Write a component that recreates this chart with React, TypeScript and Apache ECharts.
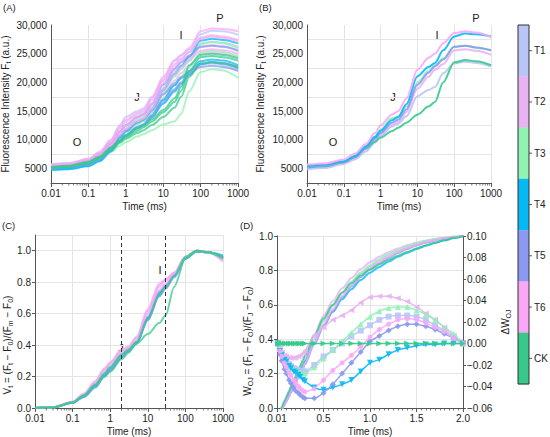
import React, { useEffect, useRef } from 'react';
import * as echarts from 'echarts';

// ---------- data ----------
const TREATMENTS = ['T1', 'T2', 'T3', 'T4', 'T5', 'T6', 'CK'];
const COLORS: Record<string, string> = {
  T1: '#b9c5f7', T2: '#e9b2f2', T3: '#8ff3b2', T4: '#05b9f5', T5: '#8a9af2', T6: '#fba7f7', CK: '#35c98b',
};

// time points (ms) for OJIP transients
const TIME_MS = [0.01, 0.03, 0.1, 0.2, 0.4, 0.7, 1, 2, 3, 5, 10, 20, 30, 50, 100, 200, 400, 1000];

// (A) raw transients, replicates
const FT_T1_A = [5800, 6000, 6700, 7900, 10000, 12600, 14000, 15000, 15500, 17500, 20500, 23800, 24800, 25800, 28400, 29000, 28900, 28300];
const FT_T1_B = [5400, 5600, 6300, 7300, 9200, 11300, 12400, 13800, 14300, 16000, 19000, 22000, 23000, 24300, 26800, 27100, 26900, 26200];
const FT_T1_C = [5000, 5200, 5800, 6700, 8300, 9900, 10800, 12100, 12600, 13800, 16500, 18300, 19500, 21500, 23000, 23300, 23000, 22200];
const FT_T2_A = [5600, 5800, 6500, 7700, 9700, 12000, 13200, 14400, 14900, 16900, 20300, 23200, 24200, 25300, 27800, 28200, 28000, 27400];
const FT_T2_B = [5300, 5500, 6200, 7200, 9000, 10900, 12000, 13300, 13800, 15500, 18600, 21300, 22600, 23800, 26200, 26500, 26300, 25600];
const FT_T2_C = [5100, 5300, 5900, 6900, 8600, 10300, 11400, 12800, 13300, 14800, 17800, 20300, 21600, 23000, 25000, 25200, 25000, 24400];
const FT_T3_A = [5300, 5500, 6200, 7100, 8900, 10800, 11900, 13500, 14000, 15700, 18400, 21000, 22300, 23700, 26600, 27000, 26800, 26000];
const FT_T3_B = [5200, 5400, 6000, 6900, 8600, 10300, 11300, 12700, 13200, 14700, 17200, 19500, 21000, 22700, 25200, 25500, 25300, 24600];
const FT_T3_C = [5000, 5200, 5700, 6500, 7900, 9000, 9600, 10600, 11000, 11700, 12700, 13200, 14500, 18500, 21800, 22300, 22100, 20800];
const FT_T4_A = [5100, 5200, 5800, 6800, 8600, 10400, 11500, 13000, 13500, 15300, 18700, 21500, 22800, 24500, 27300, 27600, 27400, 26800];
const FT_T4_B = [4800, 5000, 5500, 6400, 8100, 9800, 10800, 12200, 12700, 14300, 17000, 19500, 20700, 22000, 23700, 24000, 23800, 23000];
const FT_T4_C = [4800, 4900, 5400, 6300, 8000, 9700, 10700, 12000, 12500, 14000, 16300, 18500, 19800, 21300, 23200, 23500, 23300, 22500];
const FT_T5_A = [5500, 5700, 6400, 7500, 9400, 11500, 12600, 14000, 14500, 16300, 19600, 22400, 23500, 24700, 26200, 26400, 26200, 25500];
const FT_T5_B = [5200, 5400, 6000, 7000, 8800, 10700, 11700, 13100, 13600, 15100, 18000, 19800, 20900, 21800, 23300, 23600, 23400, 22700];
const FT_T5_C = [5000, 5200, 5700, 6600, 8200, 9800, 10800, 12200, 12700, 14100, 16800, 18800, 20000, 21600, 22700, 22900, 22700, 22000];
const FT_T6_A = [5700, 5900, 6700, 7900, 10000, 12300, 13500, 14700, 15200, 17300, 21000, 23800, 24700, 26000, 28900, 29400, 29300, 28900];
const FT_T6_B = [5500, 5700, 6400, 7500, 9400, 11500, 12600, 13900, 14400, 16300, 19800, 22800, 23900, 25300, 27600, 28000, 27800, 27200];
const FT_T6_C = [5300, 5500, 6200, 7200, 9000, 10900, 11900, 13200, 13700, 15400, 18700, 21500, 22700, 24000, 25500, 25800, 25600, 25000];
const FT_CK_A = [5300, 5500, 6200, 7100, 8700, 10000, 10800, 12000, 12600, 13600, 15200, 17200, 19200, 23000, 24800, 25000, 24800, 24200];
const FT_CK_B = [5200, 5400, 6100, 7000, 8500, 9800, 10500, 11600, 12200, 13200, 14800, 16600, 18500, 22000, 24400, 24600, 24400, 23800];
const FT_CK_C = [5100, 5300, 5900, 6800, 8300, 9500, 10200, 11200, 11700, 12600, 14000, 15600, 17500, 21000, 23300, 23500, 23300, 22600];

// (B) mean transients
const FT_MEAN_T1 = [4900, 5100, 5800, 6600, 8000, 9500, 10700, 12300, 12800, 14100, 17600, 18700, 19200, 21600, 23300, 23600, 23400, 22800];
const FT_MEAN_T2 = [5200, 5400, 6000, 6900, 8400, 9900, 10900, 12600, 13100, 14800, 18900, 21000, 22200, 23200, 25600, 25800, 25500, 24800];
const FT_MEAN_T3 = [5400, 5600, 6200, 7100, 8800, 10600, 11800, 13800, 14000, 15800, 20000, 22000, 23000, 24200, 26200, 26400, 26000, 25600];
const FT_MEAN_T4 = [5500, 5700, 6300, 7200, 8900, 10500, 11600, 13400, 14000, 16200, 21100, 22700, 23400, 25600, 28000, 28500, 28400, 28000];
const FT_MEAN_T5 = [5300, 5500, 6100, 7000, 8600, 10200, 11200, 13000, 13500, 15300, 19600, 21700, 22800, 24000, 26200, 26400, 26100, 25600];
const FT_MEAN_T6 = [5700, 5900, 6600, 7600, 9300, 11200, 12500, 14400, 15000, 17200, 22200, 24300, 25000, 26800, 28600, 28900, 28700, 27900];
const FT_MEAN_CK = [5200, 5400, 6100, 7000, 8500, 9700, 10400, 11500, 12100, 13000, 14400, 15800, 16600, 20000, 23500, 23900, 23700, 23000];

// (C) relative variable fluorescence Vt
const VT_T1_A = [0, 0.004, 0.036, 0.08, 0.15, 0.22, 0.26, 0.34, 0.37, 0.42, 0.57, 0.72, 0.77, 0.84, 0.96, 0.995, 0.99, 0.95];
const VT_T1_B = [0, 0.004, 0.034, 0.075, 0.14, 0.21, 0.25, 0.33, 0.37, 0.42, 0.56, 0.71, 0.76, 0.84, 0.95, 0.995, 0.99, 0.96];
const VT_T2_A = [0, 0.005, 0.04, 0.09, 0.17, 0.25, 0.29, 0.37, 0.39, 0.45, 0.63, 0.79, 0.82, 0.86, 0.96, 1.0, 0.99, 0.94];
const VT_T2_B = [0, 0.005, 0.038, 0.085, 0.16, 0.24, 0.28, 0.36, 0.38, 0.44, 0.61, 0.77, 0.81, 0.85, 0.96, 1.0, 0.99, 0.93];
const VT_T3_A = [0, 0.004, 0.037, 0.085, 0.16, 0.24, 0.28, 0.36, 0.38, 0.43, 0.58, 0.73, 0.78, 0.85, 0.96, 1.0, 0.985, 0.95];
const VT_T3_B = [0, 0.004, 0.035, 0.08, 0.15, 0.22, 0.26, 0.34, 0.37, 0.42, 0.57, 0.72, 0.77, 0.84, 0.96, 1.0, 0.99, 0.96];
const VT_T4_A = [0, 0.004, 0.035, 0.075, 0.14, 0.21, 0.25, 0.33, 0.36, 0.41, 0.57, 0.73, 0.78, 0.84, 0.95, 0.995, 0.99, 0.96];
const VT_T4_B = [0, 0.003, 0.033, 0.07, 0.13, 0.2, 0.24, 0.32, 0.36, 0.41, 0.56, 0.72, 0.77, 0.84, 0.95, 0.995, 0.99, 0.97];
const VT_T5_A = [0, 0.004, 0.034, 0.075, 0.14, 0.21, 0.25, 0.33, 0.37, 0.42, 0.58, 0.74, 0.78, 0.85, 0.96, 1.0, 0.99, 0.95];
const VT_T5_B = [0, 0.004, 0.034, 0.072, 0.135, 0.2, 0.24, 0.32, 0.36, 0.41, 0.56, 0.71, 0.76, 0.83, 0.95, 0.995, 0.99, 0.96];
const VT_T6_A = [0, 0.005, 0.04, 0.09, 0.17, 0.25, 0.29, 0.37, 0.39, 0.45, 0.62, 0.78, 0.82, 0.86, 0.96, 1.0, 0.99, 0.94];
const VT_T6_B = [0, 0.005, 0.038, 0.085, 0.16, 0.235, 0.28, 0.35, 0.38, 0.43, 0.6, 0.75, 0.79, 0.85, 0.96, 1.0, 0.99, 0.95];
const VT_CK_A = [0, 0.004, 0.036, 0.08, 0.145, 0.2, 0.23, 0.31, 0.35, 0.41, 0.47, 0.54, 0.59, 0.77, 0.95, 1.0, 0.99, 0.96];
const VT_CK_B = [0, 0.004, 0.035, 0.08, 0.15, 0.22, 0.26, 0.34, 0.37, 0.42, 0.57, 0.72, 0.77, 0.84, 0.96, 1.0, 0.99, 0.95];
const VT_MARKS_MS = [2, 30]; // J and I steps

// (D) W_OJ and ΔW_OJ
const DW_TIME = [0.01, 0.03, 0.05, 0.08, 0.1, 0.13, 0.15, 0.18, 0.2, 0.23, 0.25, 0.28, 0.3, 0.4, 0.5, 0.6, 0.7, 0.8, 0.9, 1.0, 1.1, 1.2, 1.3, 1.4, 1.5, 1.6, 1.7, 1.8, 1.9, 2.0];
const W_CK = [-0.05, -0.02, 0.005, 0.04, 0.065, 0.1, 0.125, 0.16, 0.185, 0.22, 0.245, 0.28, 0.305, 0.42, 0.52, 0.6, 0.67, 0.725, 0.77, 0.805, 0.835, 0.862, 0.885, 0.907, 0.927, 0.945, 0.961, 0.975, 0.988, 1.0];
const DW_T1 = [0, -0.005, -0.009, -0.013, -0.016, -0.019, -0.021, -0.023, -0.024, -0.025, -0.026, -0.026, -0.026, -0.02, -0.012, -0.006, 0.0, 0.007, 0.012, 0.017, 0.022, 0.025, 0.026, 0.026, 0.025, 0.022, 0.017, 0.012, 0.006, 0];
const DW_T2 = [0, -0.006, -0.009, -0.011, -0.012, -0.013, -0.0135, -0.0135, -0.013, -0.012, -0.011, -0.009, -0.007, 0.007, 0.015, 0.022, 0.026, 0.031, 0.038, 0.043, 0.044, 0.044, 0.042, 0.039, 0.034, 0.028, 0.022, 0.015, 0.007, 0];
const DW_T3 = [0, -0.005, -0.009, -0.014, -0.017, -0.02, -0.022, -0.024, -0.025, -0.026, -0.027, -0.028, -0.028, -0.022, -0.014, -0.006, 0.002, 0.01, 0.018, 0.025, 0.03, 0.033, 0.034, 0.034, 0.031, 0.027, 0.022, 0.015, 0.009, 0];
const DW_T4 = [0, -0.007, -0.011, -0.015, -0.017, -0.021, -0.023, -0.026, -0.027, -0.029, -0.031, -0.034, -0.035, -0.041, -0.043, -0.041, -0.038, -0.034, -0.026, -0.018, -0.015, -0.01, -0.006, -0.004, -0.002, -0.001, -0.001, 0, 0, 0];
const DW_T5 = [0, -0.01, -0.016, -0.024, -0.028, -0.034, -0.037, -0.041, -0.044, -0.046, -0.048, -0.05, -0.051, -0.051, -0.046, -0.038, -0.028, -0.018, -0.008, 0.002, 0.007, 0.012, 0.016, 0.018, 0.018, 0.016, 0.013, 0.009, 0.005, 0];
const DW_T6 = [0, -0.007, -0.012, -0.018, -0.022, -0.027, -0.03, -0.034, -0.037, -0.04, -0.042, -0.044, -0.045, -0.042, -0.034, -0.025, -0.018, -0.011, -0.003, 0.006, 0.013, 0.018, 0.022, 0.023, 0.022, 0.019, 0.015, 0.011, 0.005, 0];
const DW_CK = [0, 0, 0, 0, 0, 0, 0, 0, 0, 0, 0, 0, 0, 0, 0, 0, 0, 0, 0, 0, 0, 0, 0, 0, 0, 0, 0, 0, 0, 0];

const FT_TICKS_LABELLED = [5000, 10000, 15000, 20000, 25000, 30000];

// ---------- helpers ----------
const FONT = '"Liberation Sans", Arial, sans-serif';
const AXIS_COLOR = '#555';
const GRID_COLOR = '#e4e4e4';

const FT_REPS: [string, number[]][] = [
  ['T1', FT_T1_A], ['T1', FT_T1_B], ['T1', FT_T1_C],
  ['T2', FT_T2_A], ['T2', FT_T2_B], ['T2', FT_T2_C],
  ['T3', FT_T3_A], ['T3', FT_T3_B], ['T3', FT_T3_C],
  ['T4', FT_T4_A], ['T4', FT_T4_B], ['T4', FT_T4_C],
  ['T5', FT_T5_A], ['T5', FT_T5_B], ['T5', FT_T5_C],
  ['T6', FT_T6_A], ['T6', FT_T6_B], ['T6', FT_T6_C],
  ['CK', FT_CK_A], ['CK', FT_CK_B], ['CK', FT_CK_C],
];
const FT_MEANS: [string, number[]][] = [
  ['T1', FT_MEAN_T1], ['T2', FT_MEAN_T2], ['CK', FT_MEAN_CK], ['T3', FT_MEAN_T3],
  ['T5', FT_MEAN_T5], ['T4', FT_MEAN_T4], ['T6', FT_MEAN_T6],
];
const VT_REPS: [string, number[]][] = [
  ['T1', VT_T1_A], ['T1', VT_T1_B], ['T2', VT_T2_A], ['T2', VT_T2_B],
  ['T3', VT_T3_A], ['T3', VT_T3_B], ['T4', VT_T4_A], ['T4', VT_T4_B],
  ['T5', VT_T5_A], ['T5', VT_T5_B], ['T6', VT_T6_A], ['T6', VT_T6_B],
  ['CK', VT_CK_A], ['CK', VT_CK_B],
];
const DW_SERIES: [string, number[], string, number][] = [
  ['T1', DW_T1, 'rect', 0],
  ['T2', DW_T2, 'triangle', 90],
  ['T3', DW_T3, 'triangle', 0],
  ['T4', DW_T4, 'triangle', 180],
  ['T5', DW_T5, 'diamond', 0],
  ['T6', DW_T6, 'circle', 0],
  ['CK', DW_CK, 'triangle', -90],
];

function minorLogTicks(): number[] {
  const out: number[] = [];
  for (let e = -2; e < 3; e++) {
    for (let m = 2; m <= 9; m++) out.push(+(m * Math.pow(10, e)).toPrecision(3));
  }
  return out;
}

function fmtLog(v: number) {
  if (v < 1) return String(+v.toPrecision(1));
  return String(Math.round(v));
}
function fmtFt(v: number) {
  if (FT_TICKS_LABELLED.indexOf(Math.round(v)) < 0) return '';
  return v >= 10000 ? Math.round(v).toLocaleString('en-US') : String(Math.round(v));
}

const tickLabel = { fontSize: 10, color: '#222', fontFamily: FONT };
const nameRich = {
  n: { fontSize: 10, color: '#222', fontFamily: FONT, lineHeight: 13 },
  s: { fontSize: 7, color: '#222', fontFamily: FONT, lineHeight: 8, verticalAlign: 'bottom' },
};

function logXAxis(gridIndex: number) {
  return {
    type: 'log', logBase: 10, gridIndex, min: 0.01, max: 1000,
    axisLine: { show: true, lineStyle: { color: AXIS_COLOR, width: 1 } },
    axisTick: { show: true, length: 4, lineStyle: { color: AXIS_COLOR } },
    axisLabel: { ...tickLabel, margin: 5, formatter: fmtLog },
    splitLine: { show: true, lineStyle: { color: GRID_COLOR, width: 1 } },
    minorTick: { show: false }, minorSplitLine: { show: false },
    name: '{n|Time (ms)}', nameLocation: 'middle', nameGap: 17,
    nameTextStyle: { rich: nameRich, verticalAlign: 'top' },
  };
}

function minorTickSeries(xAxisIndex: number, yAxisIndex: number, yBase: number) {
  return {
    type: 'custom', xAxisIndex, yAxisIndex, silent: true, z: 5, clip: false,
    data: minorLogTicks().map((v) => [v, yBase]),
    renderItem: (params: any, api: any) => {
      const p = api.coord([api.value(0), api.value(1)]);
      return {
        type: 'line',
        shape: { x1: p[0], y1: p[1], x2: p[0], y2: p[1] + 2.5 },
        style: { stroke: AXIS_COLOR, lineWidth: 0.8 },
      };
    },
  };
}

function line(name: string, xAxisIndex: number, yAxisIndex: number, xs: number[], ys: number[], width = 2, opacity = 0.8) {
  const c = COLORS[name];
  return {
    type: 'line', name, xAxisIndex, yAxisIndex,
    data: xs.map((x, i) => [x, ys[i]]),
    smooth: 0.3, smoothMonotone: 'x', showSymbol: false, symbol: 'none', silent: true,
    lineStyle: { color: c, width, opacity }, itemStyle: { color: c }, z: 2,
  };
}

export default function App() {
  const ref = useRef<HTMLDivElement>(null);
  useEffect(() => {
    if (!ref.current) return;
    const chart = echarts.init(ref.current, null, { renderer: 'svg' });

    const series: any[] = [];
    // A
    FT_REPS.forEach(([t, v]) => series.push(line(t, 0, 0, TIME_MS, v, 2, 0.75)));
    series.push(minorTickSeries(0, 0, 2500));
    // B
    FT_MEANS.forEach(([t, v]) => series.push(line(t, 1, 1, TIME_MS, v, 2, 0.9)));
    series.push(minorTickSeries(1, 1, 2500));
    // C
    VT_REPS.forEach(([t, v], i) => {
      const s: any = line(t, 2, 2, TIME_MS, v, 2, 0.75);
      if (i === 0) {
        s.markLine = {
          silent: true, symbol: 'none', label: { show: false },
          lineStyle: { color: '#333', type: [4, 3], width: 1, opacity: 1 },
          data: VT_MARKS_MS.map((x) => ({ xAxis: x })),
        };
      }
      series.push(s);
    });
    series.push(minorTickSeries(2, 2, 0));
    // D: W_OJ curves (derived: W_T = W_CK + ΔW_T)
    DW_SERIES.forEach(([t, dw]) => {
      const w = W_CK.map((v, i) => v + dw[i]);
      series.push(line(t, 3, 3, DW_TIME, w, 2, 0.8));
    });
    // D: ΔW_OJ
    DW_SERIES.forEach(([t, dw, sym, rot]) => {
      const c = COLORS[t];
      series.push({
        type: 'line', name: t + ' ΔW', xAxisIndex: 3, yAxisIndex: 4,
        data: DW_TIME.map((x, i) => [x, dw[i]]),
        smooth: 0.2, showSymbol: true, symbol: sym, symbolRotate: rot,
        symbolSize: sym === 'circle' ? 5 : 6, silent: true,
        lineStyle: { color: c, width: 1.5, opacity: 0.9 },
        itemStyle: { color: c, opacity: 0.9 }, z: 3,
      });
    });

    const txt = (x: number, y: number, text: string, size = 10.5, align = 'center') => ({
      type: 'text', x, y, silent: true,
      style: { text, fill: '#222', font: `${size}px ${FONT}`, textAlign: align, textVerticalAlign: 'middle' },
    });
    const vTitle = (x: number, y: number, text: string) => ({
      type: 'text', x, y, rotation: Math.PI / 2, silent: true,
      style: { text, rich: nameRich, textAlign: 'center', textVerticalAlign: 'middle', fill: '#222' },
    });

    const graphic: any[] = [
      txt(3, 7, '(A)', 9.5, 'left'), txt(259, 7, '(B)', 9.5, 'left'),
      txt(2, 225, '(C)', 9.5, 'left'), txt(240, 225, '(D)', 9.5, 'left'),
      txt(77, 142, 'O', 11), txt(137, 97, 'J', 11), txt(181, 35, 'I', 11), txt(220, 18, 'P', 11),
      txt(333, 142, 'O', 11), txt(393, 97, 'J', 11), txt(437, 35, 'I', 11), txt(476, 18, 'P', 11),
      txt(121, 348, 'J', 11), txt(160, 270, 'I', 11),
      vTitle(7.5, 345, '{n|V}{s|t}{n| = (F}{s|t}{n| − F}{s|0}{n|)/(F}{s|m}{n| − F}{s|0}{n|)}'),
      vTitle(247.5, 341, '{n|W}{s|OJ}{n| = (F}{s|t}{n| − F}{s|O}{n|)/(F}{s|J}{n| − F}{s|O}{n|)}'),
    ];
    // colour bar
    const cbTop = 25, cbH = 359, cbX = 518, cbW = 11;
    const seg = cbH / TREATMENTS.length;
    TREATMENTS.forEach((t, i) => {
      graphic.push({ type: 'rect', silent: true, shape: { x: cbX, y: cbTop + i * seg, width: cbW, height: seg + 0.3 }, style: { fill: COLORS[t] } });
      const cy = cbTop + (i + 0.5) * seg;
      graphic.push({ type: 'line', silent: true, shape: { x1: cbX + cbW, y1: cy, x2: cbX + cbW + 3, y2: cy }, style: { stroke: '#333', lineWidth: 0.8 } });
      graphic.push(txt(cbX + cbW + 5, cy, t, 10, 'left'));
    });
    graphic.push({ type: 'rect', silent: true, shape: { x: cbX, y: cbTop, width: cbW, height: cbH }, style: { fill: 'none', stroke: '#333', lineWidth: 1 } });

    const yFt = (gridIndex: number, gap: number) => ({
      type: 'value', gridIndex, min: 2500, max: 30000, interval: 2500,
      axisLine: { show: true, lineStyle: { color: AXIS_COLOR } },
      axisTick: { show: false },
      axisLabel: { ...tickLabel, margin: 4, formatter: fmtFt },
      splitLine: { show: true, lineStyle: { color: [GRID_COLOR, 'rgba(0,0,0,0)'] } },
      name: '{n|Fluorescence Intensity F}{s|t}{n| (a.u.)}', nameLocation: 'middle', nameGap: gap,
      nameTextStyle: { rich: nameRich },
    });

    const option: any = {
      animation: false,
      backgroundColor: '#fff',
      grid: [
        { left: 51, top: 25, width: 187, height: 158, outerBoundsMode: 'none' },
        { left: 307, top: 25, width: 184, height: 158, outerBoundsMode: 'none' },
        { left: 35, top: 235, width: 188, height: 173, outerBoundsMode: 'none' },
        { left: 277, top: 236, width: 186, height: 172, outerBoundsMode: 'none' },
      ],
      xAxis: [
        logXAxis(0), logXAxis(1), logXAxis(2),
        {
          type: 'value', gridIndex: 3, min: 0, max: 2, interval: 0.5,
          axisLine: { show: true, lineStyle: { color: AXIS_COLOR } },
          axisTick: { show: true, length: 4, lineStyle: { color: AXIS_COLOR } },
          minorTick: { show: true, splitNumber: 10, length: 2.5, lineStyle: { color: AXIS_COLOR, width: 0.8 } },
          axisLabel: { ...tickLabel, margin: 5, formatter: (v: number) => (v === 0 ? '0.01' : v.toFixed(1)) },
          splitLine: { show: true, lineStyle: { color: GRID_COLOR } },
          name: '{n|Time (ms)}', nameLocation: 'middle', nameGap: 17,
          nameTextStyle: { rich: nameRich, verticalAlign: 'top' },
        },
      ],
      yAxis: [
        yFt(0, 39),
        yFt(1, 40),
        {
          type: 'value', gridIndex: 2, min: 0, max: 1.1, interval: 0.2,
          axisLine: { show: true, lineStyle: { color: AXIS_COLOR } },
          axisTick: { show: true, length: 3, lineStyle: { color: AXIS_COLOR } },
          axisLabel: { ...tickLabel, margin: 4, showMaxLabel: false, formatter: (v: number) => v.toFixed(1) },
          splitLine: { show: true, lineStyle: { color: GRID_COLOR } },
        },
        {
          type: 'value', gridIndex: 3, min: 0, max: 1, interval: 0.2,
          axisLine: { show: true, lineStyle: { color: AXIS_COLOR } },
          axisTick: { show: true, length: 3, lineStyle: { color: AXIS_COLOR } },
          axisLabel: { ...tickLabel, margin: 4, formatter: (v: number) => v.toFixed(1) },
          splitLine: { show: true, lineStyle: { color: GRID_COLOR } },
        },
        {
          type: 'value', gridIndex: 3, position: 'right', min: -0.06, max: 0.1, interval: 0.02,
          axisLine: { show: true, lineStyle: { color: AXIS_COLOR } },
          axisTick: { show: true, length: 3, lineStyle: { color: AXIS_COLOR } },
          axisLabel: {
            ...tickLabel, margin: 4,
            formatter: (v: number) => (v < -1e-9 ? '−' : '') + Math.abs(v).toFixed(2),
          },
          splitLine: { show: false },
          name: '{n|ΔW}{s|OJ}', nameLocation: 'middle', nameGap: 36,
          nameTextStyle: { rich: nameRich },
        },
      ],
      series,
      graphic,
    };
    chart.setOption(option);
    return () => chart.dispose();
  }, []);
  return <div ref={ref} style={{ position: 'absolute', left: 0, top: 0, width: 550, height: 437 }} />;
}
